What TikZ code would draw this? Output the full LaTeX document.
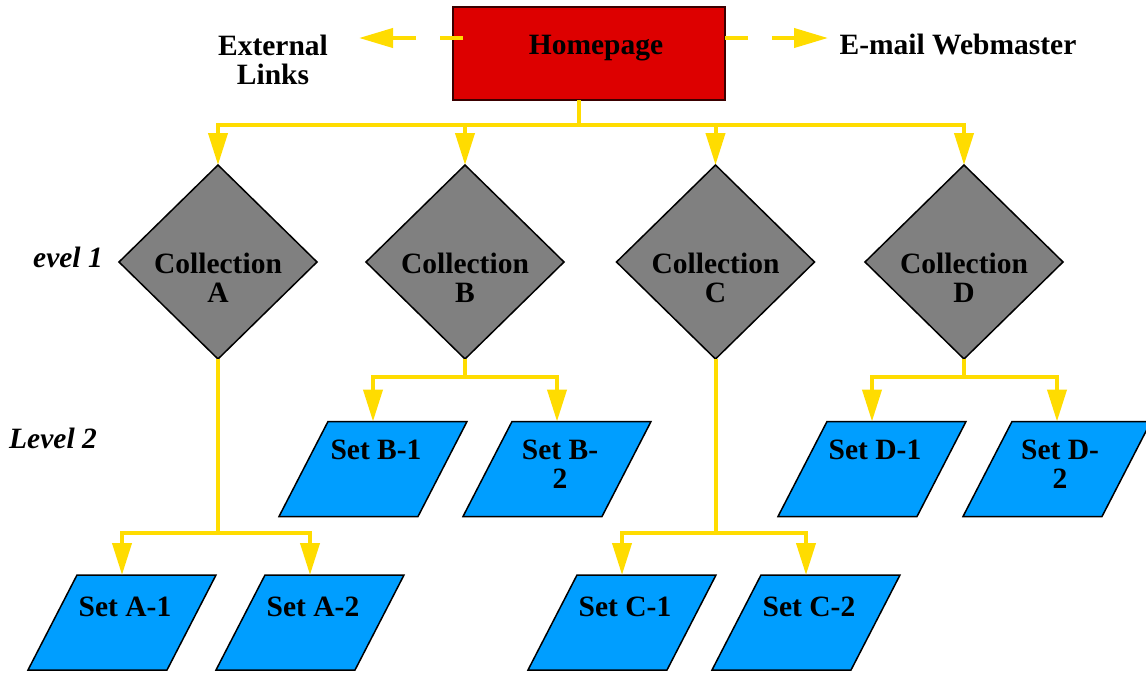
\documentclass[tikz,border=0pt]{standalone}
\usepackage{fontspec}
\setmainfont{Liberation Serif}
\usetikzlibrary{arrows.meta,shapes.geometric,backgrounds}
\definecolor{linkyellow}{HTML}{FFDC00}
\definecolor{homered}{HTML}{DD0000}
\definecolor{homeborder}{HTML}{3A0000}
\definecolor{collgray}{HTML}{808080}
\definecolor{setblue}{HTML}{009EFF}
\begin{document}
\begin{tikzpicture}[x=1pt,y=-1pt,
  every node/.style={font=\fontsize{29.5}{29}\selectfont\bfseries},
  conn/.style={draw=linkyellow, line width=4pt},
  arr/.style={conn, -{Triangle[length=32pt,width=19pt]}},
  dasharr/.style={conn, dash pattern=on 23pt off 24pt, -{Triangle[length=34pt,width=19pt]}},
  homebox/.style={draw=homeborder, fill=homered, line width=2pt, minimum width=272pt, minimum height=93pt, inner sep=0pt, outer sep=0pt},
  collbox/.style={diamond, draw=black, fill=collgray, line width=1.5pt, minimum width=198pt, minimum height=194pt, inner sep=0pt, outer sep=0pt},
  setbox/.style={minimum width=139pt, minimum height=95pt, inner sep=0pt, outer sep=0pt},
  setshape/.style={draw=black, fill=setblue, line width=1.5pt, line join=miter},
  txt/.style={inner sep=0pt, align=center, anchor=north},
  lvl/.style={inner sep=0pt, anchor=north west, font=\fontsize{29.5}{29}\selectfont\bfseries\itshape},
]
\path[use as bounding box] (0,0) rectangle (1146,673);

% top level
\node[homebox, label={[txt, xshift=7pt, yshift=-28pt]north:Homepage}] (home) at (589,53.5) {};
\node[txt] (ext) at (273,35) {External\\Links};
\node[txt] (mail) at (958,34) {E-mail Webmaster};
\coordinate (extin) at (359,38);
\coordinate (mailin) at (828,38);

% collections
\node[collbox, label={[txt, yshift=-88pt]north:Collection\\A}] (cA) at (218,262) {};
\node[collbox, label={[txt, yshift=-88pt]north:Collection\\B}] (cB) at (465,262) {};
\node[collbox, label={[txt, yshift=-88pt]north:Collection\\C}] (cC) at (715.5,262) {};
\node[collbox, label={[txt, yshift=-88pt]north:Collection\\D}] (cD) at (964,262) {};

% level labels
\node[lvl] (lv1) at (33,247) {evel 1};
\node[lvl] (lv2) at (9,428) {Level 2};

% sets, level 2 row
\node[setbox, label={[txt,xshift=3pt,yshift=-18.5pt]north:Set B-1}] (b1) at (373,469) {};
\node[setbox, label={[txt,xshift=3pt,yshift=-18.5pt]north:Set B-\\2}] (b2) at (557,469) {};
\node[setbox, label={[txt,xshift=3pt,yshift=-18.5pt]north:Set D-1}] (d1) at (872,469) {};
\node[setbox, label={[txt,xshift=3pt,yshift=-18.5pt]north:Set D-\\2}] (d2) at (1057,469) {};
% sets, level 3 row
\node[setbox, label={[txt,xshift=3pt,yshift=-21.7pt]north:Set A-1}] (a1) at (122,622.5) {};
\node[setbox, label={[txt,xshift=3pt,yshift=-21.7pt]north:Set A-2}] (a2) at (310,622.5) {};
\node[setbox, label={[txt,xshift=3pt,yshift=-21.7pt]north:Set C-1}] (c1) at (622,622.5) {};
\node[setbox, label={[txt,xshift=3pt,yshift=-21.7pt]north:Set C-2}] (c2) at (806,622.5) {};

\begin{scope}[on background layer]
\foreach \n in {a1,a2,b1,b2,c1,c2,d1,d2}
  \draw[setshape] ([xshift=24.5pt]\n.north west) -- ([xshift=24.5pt]\n.north east)
     -- ([xshift=-24.5pt]\n.south east) -- ([xshift=-24.5pt]\n.south west) -- cycle;
\end{scope}

% dashed links
\draw[dasharr] ([xshift=10pt]home.west |- extin) -- (extin);
\draw[dasharr] (home.east |- mailin) -- (mailin);

% homepage to collections
\coordinate (j0) at (579,125);
\draw[conn] (home.south -| j0) -- (j0);
\foreach \c in {cA,cB,cC,cD} \draw[arr] (j0) -| (\c.north);

% collections to sets
\coordinate (jA) at (218,533);
\coordinate (jB) at (465,377);
\coordinate (jC) at (715.5,533);
\coordinate (jD) at (964,377);
\draw[conn] (cA.south) -- (jA);
\draw[conn] (cB.south) -- (jB);
\draw[conn] (cC.south) -- (jC);
\draw[conn] (cD.south) -- (jD);
\draw[arr] (jA) -| (a1.north);
\draw[arr] (jA) -| (a2.north);
\draw[arr] (jB) -| (b1.north);
\draw[arr] (jB) -| (b2.north);
\draw[arr] (jC) -| (c1.north);
\draw[arr] (jC) -| (c2.north);
\draw[arr] (jD) -| (d1.north);
\draw[arr] (jD) -| (d2.north);
\end{tikzpicture}
\end{document}
